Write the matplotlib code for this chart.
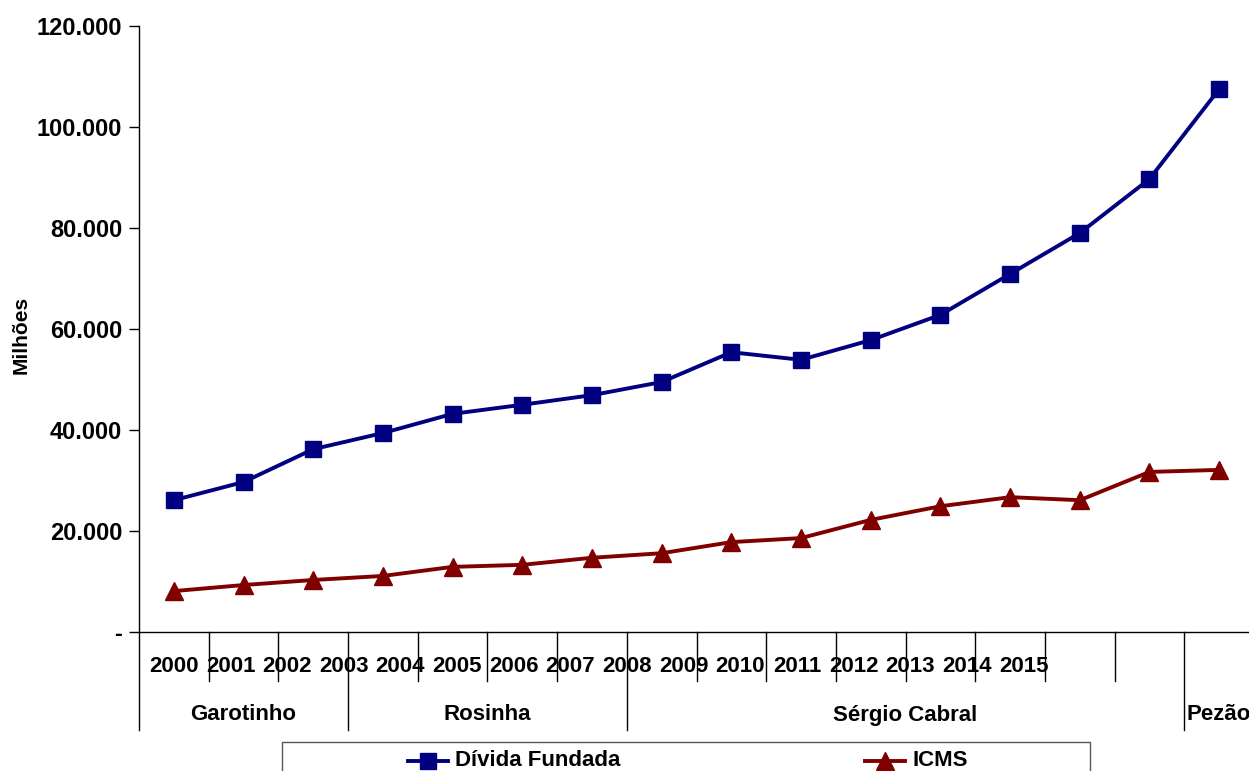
import numpy as np
import matplotlib
matplotlib.use("Agg")
import matplotlib.pyplot as plt
from matplotlib.lines import Line2D
from matplotlib.patches import Rectangle
import matplotlib.transforms as mtransforms

plt.rcParams['font.family'] = ['Liberation Sans', 'DejaVu Sans']
plt.rcParams['font.weight'] = 'bold'

years = ["2000", "2001", "2002", "2003", "2004", "2005", "2006", "2007",
         "2008", "2009", "2010", "2011", "2012", "2013", "2014", "2015"]
divida = [26100, 29700, 36200, 39400, 43200, 45000, 46900, 49500,
          55400, 53900, 57800, 62800, 70900, 79000, 89700, 107500]
icms = [8100, 9300, 10300, 11100, 12900, 13300, 14700, 15600,
        17800, 18600, 22200, 24900, 26700, 26100, 31700, 32100]
governos = ["Garotinho", "Rosinha", "Sérgio Cabral", "Pezão"]
mandato = [3, 4, 8, 1]
yticks = [0, 20000, 40000, 60000, 80000, 100000, 120000]

W, H = 1249, 771
fig = plt.figure(figsize=(W / 100, H / 100), dpi=100)
ax = fig.add_axes([139 / W, 1 - 632 / H, (1254 - 139) / W, (632 - 26) / H])

x = np.arange(len(years))
ax.plot(x, divida, color='#000080', lw=2.8, marker='s', ms=11,
        label='Dívida Fundada', clip_on=False, zorder=3)
ax.plot(x, icms, color='#800000', lw=2.8, marker='^', ms=13,
        label='ICMS', clip_on=False, zorder=3)

ax.set_xlim(-0.5, len(years) - 0.5)
ax.set_ylim(0, 120000)
ax.set_yticks(yticks)
ax.set_yticklabels(['-' if v == 0 else f"{v:,}".replace(',', '.') for v in yticks],
                   fontsize=17, fontweight='bold')
ax.tick_params(axis='y', direction='out', length=7, width=1, pad=5)
ax.set_xticks([])
for s in ['top', 'right']:
    ax.spines[s].set_visible(False)
ax.spines['left'].set_linewidth(1)
ax.spines['bottom'].set_linewidth(1)
ax.set_ylabel('Milhões', fontsize=15, fontweight='bold')
ax.yaxis.set_label_coords(-0.097, 0.49)

trans = mtransforms.blended_transform_factory(ax.transData, ax.transAxes)
ah = 632 - 26
lvl1 = -(681 - 632) / ah
lvl2 = -(730 - 632) / ah
ylab1 = -(666 - 632) / ah
ylab2 = -(715 - 632) / ah

# separadores de categoria
bounds = np.cumsum([0] + mandato) - 0.5
for b in np.arange(len(years) + 1) - 0.5:
    bottom = lvl2 if b in bounds else lvl1
    ax.plot([b, b], [0, bottom], color='black', lw=1, transform=trans, clip_on=False)

# rótulos dos anos (deslocados como no original)
step = 850 / 15 / 69.7
for i, y in enumerate(years):
    ax.text(i * step, ylab1, y, transform=trans, ha='center', va='center',
            fontsize=16, fontweight='bold')

# rótulos dos governos
for i, g in enumerate(governos):
    c = (bounds[i] + bounds[i + 1]) / 2
    ax.text(c, ylab2, g, transform=trans, ha='center', va='center',
            fontsize=16, fontweight='bold')

# legenda
fig.patches.append(Rectangle((282 / W, -0.01), (1090 - 282) / W, 1 - 742 / H + 0.01,
                             transform=fig.transFigure, fill=False,
                             edgecolor='#555555', lw=1))
ly = 1 - 761 / H
fig.lines.append(Line2D([408 / W, 448 / W], [ly, ly], color='#000080', lw=2.8,
                        transform=fig.transFigure))
fig.lines.append(Line2D([428 / W], [ly], color='#000080', marker='s', ms=11,
                        transform=fig.transFigure))
fig.text(455 / W, ly, 'Dívida Fundada', ha='left', va='center', fontsize=16,
         fontweight='bold')
fig.lines.append(Line2D([865 / W, 905 / W], [ly, ly], color='#800000', lw=2.8,
                        transform=fig.transFigure))
fig.lines.append(Line2D([885 / W], [ly], color='#800000', marker='^', ms=13,
                        transform=fig.transFigure))
fig.text(912 / W, ly, 'ICMS', ha='left', va='center', fontsize=16,
         fontweight='bold')

fig.savefig('out.png', dpi=100)
